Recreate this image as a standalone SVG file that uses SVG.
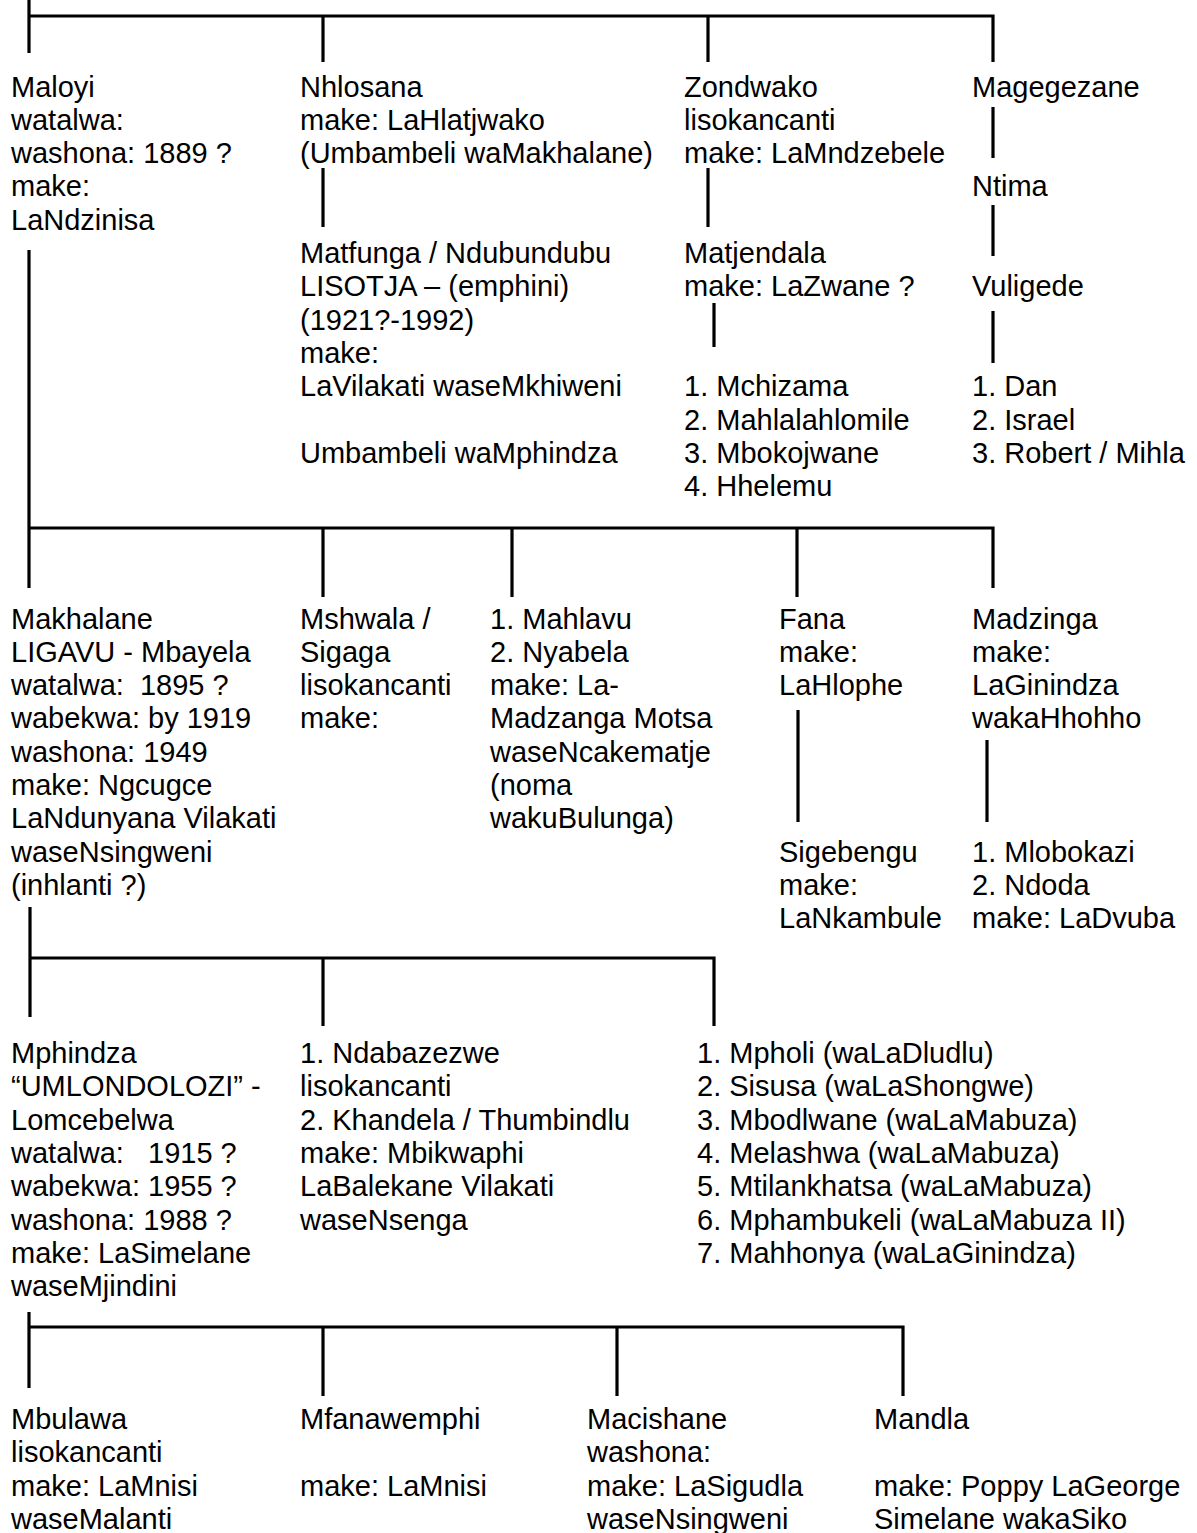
<svg xmlns="http://www.w3.org/2000/svg" width="1197" height="1533" viewBox="0 0 1197 1533">
<style>
text{font-family:"Liberation Sans",Arial,sans-serif;font-size:29px;fill:#000}
.ln{stroke:#000;stroke-width:3.2;fill:none;stroke-linecap:butt}
</style>
<rect x="0" y="0" width="1197" height="1533" fill="#fff"/>
<g id="connectors" class="ln">
<path d="M29 0V53M27.4 16H994.6M323 16V62M708 16V62M993 16V62"/>
<path d="M323 168V227M708 168V227M714 303V347M993 107V158M993 205V256M993 311V363"/>
<path d="M29 250V588M27.4 528H994.6M323 528V597M512 528V597M797 528V597M993 528V588"/>
<path d="M798 710V822M987 740V822"/>
<path d="M30 907V1017M28.4 958H715.6M323 958V1026M714 958V1026"/>
<path d="M29 1312V1388M27.4 1327H904.6M323 1327V1396M617 1327V1396M903 1327V1396"/>
</g>
<g id="maloyi"><text x="11" y="96.5">Maloyi</text><text x="11" y="129.8">watalwa:</text><text x="11" y="163.1">washona: 1889 ?</text><text x="11" y="196.4">make:</text><text x="11" y="229.7">LaNdzinisa</text></g>
<g id="nhlosana"><text x="300" y="96.5">Nhlosana</text><text x="300" y="129.8">make: LaHlatjwako</text><text x="300" y="163.1">(Umbambeli waMakhalane)</text></g>
<g id="matfunga"><text x="300" y="263">Matfunga / Ndubundubu</text><text x="300" y="296.3">LISOTJA – (emphini)</text><text x="300" y="329.6">(1921?-1992)</text><text x="300" y="362.9">make:</text><text x="300" y="396.2">LaVilakati waseMkhiweni</text><text x="300" y="462.8">Umbambeli waMphindza</text></g>
<g id="zondwako"><text x="684" y="96.5">Zondwako</text><text x="684" y="129.8">lisokancanti</text><text x="684" y="163.1">make: LaMndzebele</text></g>
<g id="matjendala"><text x="684" y="263">Matjendala</text><text x="684" y="296.3">make: LaZwane ?</text></g>
<g id="matjendala-children"><text x="684" y="396.2">1. Mchizama</text><text x="684" y="429.5">2. Mahlalahlomile</text><text x="684" y="462.8">3. Mbokojwane</text><text x="684" y="496.1">4. Hhelemu</text></g>
<g id="magegezane"><text x="972" y="96.5">Magegezane</text></g>
<g id="ntima"><text x="972" y="196.4">Ntima</text></g>
<g id="vuligede"><text x="972" y="296.3">Vuligede</text></g>
<g id="vuligede-children"><text x="972" y="396.2">1. Dan</text><text x="972" y="429.5">2. Israel</text><text x="972" y="462.8">3. Robert / Mihla</text></g>
<g id="makhalane"><text x="11" y="628.5">Makhalane</text><text x="11" y="661.8">LIGAVU - Mbayela</text><text x="11" y="695.1" xml:space="preserve">watalwa:  1895 ?</text><text x="11" y="728.4">wabekwa: by 1919</text><text x="11" y="761.7">washona: 1949</text><text x="11" y="795">make: Ngcugce</text><text x="11" y="828.3">LaNdunyana Vilakati</text><text x="11" y="861.6">waseNsingweni</text><text x="11" y="894.9">(inhlanti ?)</text></g>
<g id="mshwala"><text x="300" y="628.5">Mshwala /</text><text x="300" y="661.8">Sigaga</text><text x="300" y="695.1">lisokancanti</text><text x="300" y="728.4">make:</text></g>
<g id="mahlavu"><text x="490" y="628.5">1. Mahlavu</text><text x="490" y="661.8">2. Nyabela</text><text x="490" y="695.1">make: La-</text><text x="490" y="728.4">Madzanga Motsa</text><text x="490" y="761.7">waseNcakematje</text><text x="490" y="795">(noma</text><text x="490" y="828.3">wakuBulunga)</text></g>
<g id="fana"><text x="779" y="628.5">Fana</text><text x="779" y="661.8">make:</text><text x="779" y="695.1">LaHlophe</text></g>
<g id="sigebengu"><text x="779" y="861.6">Sigebengu</text><text x="779" y="894.9">make:</text><text x="779" y="928.2">LaNkambule</text></g>
<g id="madzinga"><text x="972" y="628.5">Madzinga</text><text x="972" y="661.8">make:</text><text x="972" y="695.1">LaGinindza</text><text x="972" y="728.4">wakaHhohho</text></g>
<g id="madzinga-children"><text x="972" y="861.6">1. Mlobokazi</text><text x="972" y="894.9">2. Ndoda</text><text x="972" y="928.2">make: LaDvuba</text></g>
<g id="mphindza"><text x="11" y="1063">Mphindza</text><text x="11" y="1096.3">“UMLONDOLOZI” -</text><text x="11" y="1129.6">Lomcebelwa</text><text x="11" y="1162.9" xml:space="preserve">watalwa:   1915 ?</text><text x="11" y="1196.2">wabekwa: 1955 ?</text><text x="11" y="1229.5">washona: 1988 ?</text><text x="11" y="1262.8">make: LaSimelane</text><text x="11" y="1296.1">waseMjindini</text></g>
<g id="ndabazezwe"><text x="300" y="1063">1. Ndabazezwe</text><text x="300" y="1096.3">lisokancanti</text><text x="300" y="1129.6">2. Khandela / Thumbindlu</text><text x="300" y="1162.9">make: Mbikwaphi</text><text x="300" y="1196.2">LaBalekane Vilakati</text><text x="300" y="1229.5">waseNsenga</text></g>
<g id="mpholi"><text x="697" y="1063">1. Mpholi (waLaDludlu)</text><text x="697" y="1096.3">2. Sisusa (waLaShongwe)</text><text x="697" y="1129.6">3. Mbodlwane (waLaMabuza)</text><text x="697" y="1162.9">4. Melashwa (waLaMabuza)</text><text x="697" y="1196.2">5. Mtilankhatsa (waLaMabuza)</text><text x="697" y="1229.5">6. Mphambukeli (waLaMabuza II)</text><text x="697" y="1262.8">7. Mahhonya (waLaGinindza)</text></g>
<g id="mbulawa"><text x="11" y="1429">Mbulawa</text><text x="11" y="1462.3">lisokancanti</text><text x="11" y="1495.6">make: LaMnisi</text><text x="11" y="1528.9">waseMalanti</text></g>
<g id="mfanawemphi"><text x="300" y="1429">Mfanawemphi</text><text x="300" y="1495.6">make: LaMnisi</text></g>
<g id="macishane"><text x="587" y="1429">Macishane</text><text x="587" y="1462.3">washona:</text><text x="587" y="1495.6">make: LaSigudla</text><text x="587" y="1528.9">waseNsingweni</text></g>
<g id="mandla"><text x="874" y="1429">Mandla</text><text x="874" y="1495.6">make: Poppy LaGeorge</text><text x="874" y="1528.9">Simelane wakaSiko</text></g>
</svg>
